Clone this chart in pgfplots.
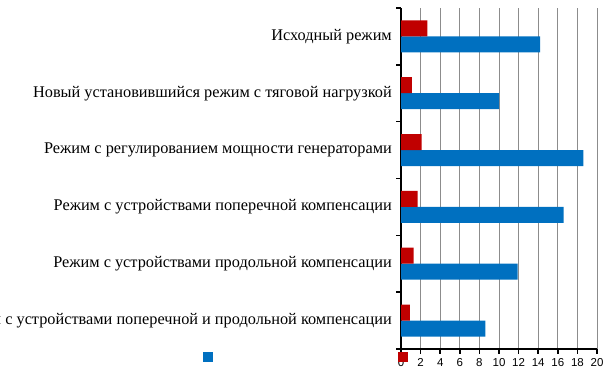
\documentclass[border=0pt]{standalone}
\usepackage{pgfplots}
\pgfplotsset{compat=1.18}
\usepackage{fontspec}
\setmainfont{Liberation Serif}
\newfontfamily\sansf{Liberation Sans}
\definecolor{barblue}{RGB}{0,112,192}
\definecolor{barred}{RGB}{192,0,0}
\begin{document}
\begin{tikzpicture}[x=1pt,y=1pt]
\clip (0,0) rectangle (609,379);
\path[use as bounding box] (0,0) rectangle (609,379);
\begin{axis}[
  at={(401pt,30pt)}, anchor=south west,
  scale only axis, width=196pt, height=341pt,
  xmin=0, xmax=20, ymin=-0.5, ymax=5.5,
  xbar, bar width=16pt,
  axis x line*=bottom, axis y line*=left,
  axis line style={black, line width=1.6pt},
  xtick={0,2,...,20},
  xmajorgrids, grid style={gray!90, line width=0.8pt},
  every tick/.style={black, line width=1.6pt},
  tick align=outside, major tick length=5pt,
  /pgf/number format/assume math mode=true,
  xticklabel style={font=\sansf\fontsize{11.5}{13}\selectfont, inner sep=4pt},
  ytick={-0.5,0.5,...,5.5},
  yticklabels={},
  extra y ticks={0,...,5},
  extra y tick labels={Режим с устройствами поперечной и продольной компенсации,
    Режим с устройствами продольной компенсации,
    Режим с устройствами поперечной компенсации,
    Режим с регулированием мощности генераторами,
    Новый установившийся режим с тяговой нагрузкой,
    Исходный режим},
  extra y tick style={major tick length=0pt,
    yticklabel style={font=\fontsize{16.3}{18}\selectfont, inner sep=0pt, xshift=-9pt}},
  legend columns=2,
  legend image code/.code={\fill[#1] (0pt,-5pt) rectangle (10pt,5pt);},
  legend style={draw=none, fill=none, inner sep=0pt, outer sep=0pt,
    at={(axis description cs:-1.01,-0.0235)}, anchor=west,
    nodes={inner sep=0pt, outer sep=0pt}, column sep=0pt},
]
\addplot[fill=barblue, draw=none, bar shift=-8pt] coordinates {
  (8.6,0) (11.9,1) (16.6,2) (18.6,3) (10.0,4) (14.2,5)};
\addlegendentry{\hspace*{185pt}}
\addplot[fill=barred, draw=none, bar shift=8pt] coordinates {
  (0.9,0) (1.3,1) (1.7,2) (2.1,3) (1.1,4) (2.7,5)};
\addlegendentry{\strut}
\end{axis}
\end{tikzpicture}
\end{document}
